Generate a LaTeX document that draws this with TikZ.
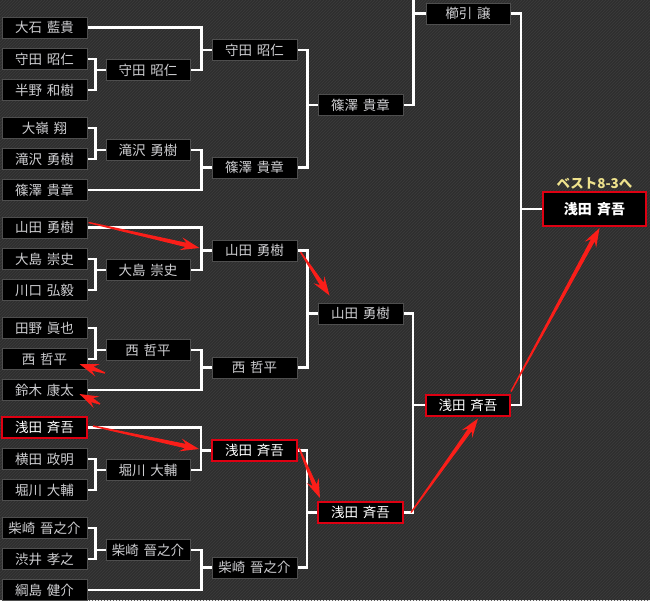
\documentclass[tikz,border=0pt]{standalone}
\usepackage{fontspec}
\setmainfont{Noto Sans CJK JP}[WordSpace=1.6]
\usepackage{tikz}
\usetikzlibrary{arrows.meta,calc,patterns}
\usepackage{xcolor}
\definecolor{bgdark}{RGB}{46,46,46}
\definecolor{bgstripe}{RGB}{60,60,60}
\definecolor{boxline}{RGB}{78,78,78}
\definecolor{nametext}{RGB}{205,205,208}
\definecolor{winred}{RGB}{222,0,18}
\definecolor{arrowred}{RGB}{250,30,25}
\definecolor{bestgold}{RGB}{238,226,140}
\tikzstyle{player} = [draw=boxline, line width=1pt, fill=black, text=nametext, minimum width=85, minimum height=21, inner sep=0pt, font=\fontsize{13.5}{15}\selectfont]
\tikzstyle{winner} = [player, draw=winred, line width=2pt, text=white]
\tikzstyle{link} = [line width=2.6pt, draw=white]
% two players joined into the next round
\newcommand{\bracket}[4]{%
  \draw[link] (#1.east) -| ([xshift=-#4pt]#3.west) |- (#2.east);
  \draw[link] ([xshift=-#4pt]#3.west) -- (#3.west);}
% tapered red arrow
\newcommand{\redarrow}[2]{%
  \path ($(#2)!14pt!(#1)$) coordinate (neck) ($(#2)!19pt!(#1)$) coordinate (wing);
  \fill[arrowred] ($(#1)!0.7pt!90:(#2)$) -- ($(neck)!2.2pt!90:(#2)$) -- ($(wing)!6.5pt!90:(#2)$) -- (#2)
    -- ($(wing)!6.5pt!-90:(#2)$) -- ($(neck)!2.2pt!-90:(#2)$) -- ($(#1)!0.7pt!-90:(#2)$) -- cycle;}

\begin{document}
\begin{tikzpicture}[x=1pt, y=-1pt]
\useasboundingbox (0,0) rectangle (650,600);
% Background
\fill[bgdark] (0,0) rectangle (650,600);
\fill[pattern=north east lines, pattern color=bgstripe] (0,0) rectangle (650,600);

% First round
\node[player] (oishi) at (44.5,27.5) {大石 藍貴};
\node[player] (morita1) at (44.5,59) {守田 昭仁};
\node[player] (hanno) at (44.5,90) {半野 和樹};
\node[player] (omine) at (44.5,128) {大嶺 翔};
\node[player] (takizawa1) at (44.5,159) {滝沢 勇樹};
\node[player] (shinozawa1) at (44.5,190) {篠澤 貴章};
\node[player] (yamada1) at (44.5,227.5) {山田 勇樹};
\node[player] (oshima1) at (44.5,259) {大島 崇史};
\node[player] (kawaguchi) at (44.5,290) {川口 弘毅};
\node[player] (tano) at (44.5,328) {田野 眞也};
\node[player] (nishi1) at (44.5,359) {西 哲平};
\node[player] (suzuki) at (44.5,390) {鈴木 康太};
\node[winner] (asada1) at (44.5,427.5) {浅田 斉吾};
\node[player] (yokota) at (44.5,459) {横田 政明};
\node[player] (horikawa1) at (44.5,490) {堀川 大輔};
\node[player] (shibasaki1) at (44.5,528) {柴崎 晉之介};
\node[player] (shibui) at (44.5,559) {渋井 孝之};
\node[player] (tsunashima) at (44.5,590) {綱島 健介};

% Second round
\node[player, minimum width=84] (morita2) at (148,70) {守田 昭仁};
\node[player, minimum width=84] (takizawa2) at (148,150) {滝沢 勇樹};
\node[player, minimum width=84] (oshima2) at (148,270) {大島 崇史};
\node[player, minimum width=84] (nishi2) at (148,350) {西 哲平};
\node[player, minimum width=84] (horikawa2) at (148,470) {堀川 大輔};
\node[player, minimum width=84] (shibasaki2) at (148,550) {柴崎 晉之介};

% Third round
\node[player] (morita3) at (254.5,50) {守田 昭仁};
\node[player] (shinozawa3) at (254.5,167.5) {篠澤 貴章};
\node[player] (yamada3) at (254.5,250.5) {山田 勇樹};
\node[player] (nishi3) at (254.5,367.5) {西 哲平};
\node[winner] (asada3) at (254.5,450.5) {浅田 斉吾};
\node[player] (shibasaki3) at (254.5,567.5) {柴崎 晉之介};

% Fourth and fifth round
\node[player] (shinozawa4) at (360.5,105) {篠澤 貴章};
\node[player] (yamada4) at (360.5,313.5) {山田 勇樹};
\node[winner] (asada4) at (360.5,512.5) {浅田 斉吾};
\node[player, minimum width=84] (kushibiki) at (468,13.5) {櫛引 譲};
\node[winner, minimum width=84] (asada5) at (468,405) {浅田 斉吾};

% Final box
\node[winner, minimum width=103, minimum height=34, font=\bfseries\fontsize{14}{16}\selectfont] (final) at (594.5,209) {浅田 斉吾};
\node[text=bestgold, font=\bfseries\fontsize{13.5}{15}\selectfont] (best) at (594.5,183) {ベスト8-3へ};

% Brackets
\bracket{morita1}{hanno}{morita2}{10}
\bracket{omine}{takizawa1}{takizawa2}{10}
\bracket{oshima1}{kawaguchi}{oshima2}{10}
\bracket{tano}{nishi1}{nishi2}{10}
\bracket{yokota}{horikawa1}{horikawa2}{10}
\bracket{shibasaki1}{shibui}{shibasaki2}{10}
\bracket{oishi}{morita2}{morita3}{10}
\bracket{takizawa2}{shinozawa1}{shinozawa3}{10}
\bracket{yamada1}{oshima2}{yamada3}{10}
\bracket{nishi2}{suzuki}{nishi3}{10}
\bracket{asada1}{horikawa2}{asada3}{10}
\bracket{shibasaki2}{tsunashima}{shibasaki3}{10}
\bracket{morita3}{shinozawa3}{shinozawa4}{10}
\bracket{yamada3}{nishi3}{yamada4}{10}
\bracket{asada3}{shibasaki3}{asada4}{10}
\bracket{yamada4}{asada4}{asada5}{12}
\bracket{kushibiki}{asada5}{final}{21}
\coordinate (feed) at (413.5,-20);
\draw[link] (feed) |- (shinozawa4.east);
\draw[link] ([xshift=-12pt]kushibiki.west) -- (kushibiki.west);

% Red arrows
\coordinate (ya-t) at ($(yamada1.north east)+(1,6)$);
\coordinate (ya-h) at ($(yamada3.west)+(-12,-2.5)$);
\coordinate (yb-t) at ($(yamada3.east)+(3,1.5)$);
\coordinate (yb-h) at ($(yamada4.north west)+(12,-7)$);
\coordinate (ni-t) at (105,373);
\coordinate (ni-h) at ($(nishi1.south east)+(-8,-6)$);
\coordinate (su-t) at (100,404);
\coordinate (su-h) at ($(suzuki.south east)+(-8,-7)$);
\coordinate (aa-t) at ($(asada1.east)+(5,-1.5)$);
\coordinate (aa-h) at ($(asada3.west)+(-12,-1.5)$);
\coordinate (ab-t) at ($(asada3.east)+(1,-2.5)$);
\coordinate (ab-h) at ($(asada4.north west)+(3,-3)$);
\coordinate (ac-t) at ($(asada4.east)+(7,0)$);
\coordinate (ac-h) at ($(asada5.south)+(10,2)$);
\coordinate (ad-t) at ($(asada5.north east)+(0,-2)$);
\coordinate (ad-h) at ($(final.south)+(5,1)$);
\redarrow{ya-t}{ya-h}
\redarrow{yb-t}{yb-h}
\redarrow{ni-t}{ni-h}
\redarrow{su-t}{su-h}
\redarrow{aa-t}{aa-h}
\redarrow{ab-t}{ab-h}
\redarrow{ac-t}{ac-h}
\redarrow{ad-t}{ad-h}
\end{tikzpicture}
\end{document}
